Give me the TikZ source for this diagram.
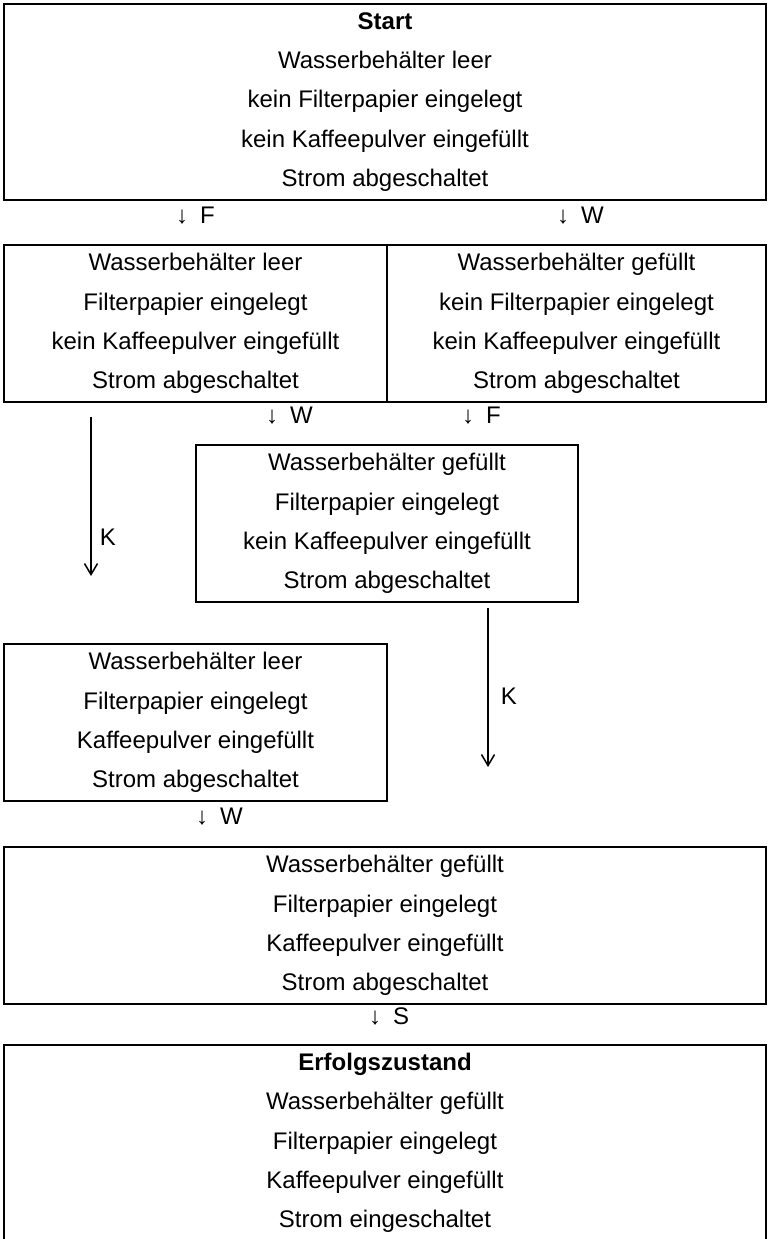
\documentclass[tikz,border=0pt]{standalone}
\usepackage{fontspec}
\setmainfont{Liberation Sans}
\usetikzlibrary{arrows.meta}

\begin{document}
\begin{tikzpicture}[
    x=1pt, y=1pt,
    every node/.style={font=\fontsize{24}{39.25}\selectfont},
    state/.style={
        rectangle, draw, line width=2pt, inner sep=0pt, outer sep=0pt,
        align=center, anchor=north west, minimum height=157pt
    },
    trans/.style={anchor=west, inner sep=0pt},
    karrow/.style={line width=1.5pt, -{Straight Barb[length=11pt,width=13pt]}}
]
\useasboundingbox (0,0) rectangle (768,-1239);

% --- States of the coffee machine (top left corner, px)
\node[state, minimum width=762pt, minimum height=196pt] (start) at (4,-4) {%
    \textbf{Start}\\Wasserbehälter leer\\kein Filterpapier eingelegt\\
    kein Kaffeepulver eingefüllt\\Strom abgeschaltet};

\node[state, minimum width=383pt] (leerF) at (4,-245) {%
    Wasserbehälter leer\\Filterpapier eingelegt\\
    kein Kaffeepulver eingefüllt\\Strom abgeschaltet};
\node[state, minimum width=379pt] (vollK) at (387,-245) {%
    Wasserbehälter gefüllt\\kein Filterpapier eingelegt\\
    kein Kaffeepulver eingefüllt\\Strom abgeschaltet};

\node[state, minimum width=382pt] (vollF) at (196,-445) {%
    Wasserbehälter gefüllt\\Filterpapier eingelegt\\
    kein Kaffeepulver eingefüllt\\Strom abgeschaltet};

\node[state, minimum width=383pt] (leerK) at (4,-644) {%
    Wasserbehälter leer\\Filterpapier eingelegt\\
    Kaffeepulver eingefüllt\\Strom abgeschaltet};

\node[state, minimum width=762pt] (bereit) at (4,-847) {%
    Wasserbehälter gefüllt\\Filterpapier eingelegt\\
    Kaffeepulver eingefüllt\\Strom abgeschaltet};

\node[state, minimum width=762pt, minimum height=196pt] (erfolg) at (4,-1045) {%
    \textbf{Erfolgszustand}\\Wasserbehälter gefüllt\\Filterpapier eingelegt\\
    Kaffeepulver eingefüllt\\Strom eingeschaltet};

% --- Transition labels (name/x/y/action)
\foreach \name/\x/\y/\act in {%
    tF1/176/216/F, tW1/557/216/W,
    tW2/266/416/W, tF2/462/416/F,
    tW3/196/817/W, tS/369/1016/S}
  \node[trans] (\name) at (\x,-\y) {↓\hspace{12pt}\act};

% --- Long K arrows
\coordinate (k1top) at (91,-417);
\coordinate (k1end) at (91,-576);
\draw[karrow] (k1top) -- (k1end)
    node[pos=0.755, anchor=west, inner sep=0pt, xshift=8pt] (kK1) {K};

\coordinate (k2top) at (488,-608);
\coordinate (k2end) at (488,-767);
\draw[karrow] (k2top) -- (k2end)
    node[pos=0.553, anchor=west, inner sep=0pt, xshift=12pt] (kK2) {K};
\end{tikzpicture}
\end{document}
